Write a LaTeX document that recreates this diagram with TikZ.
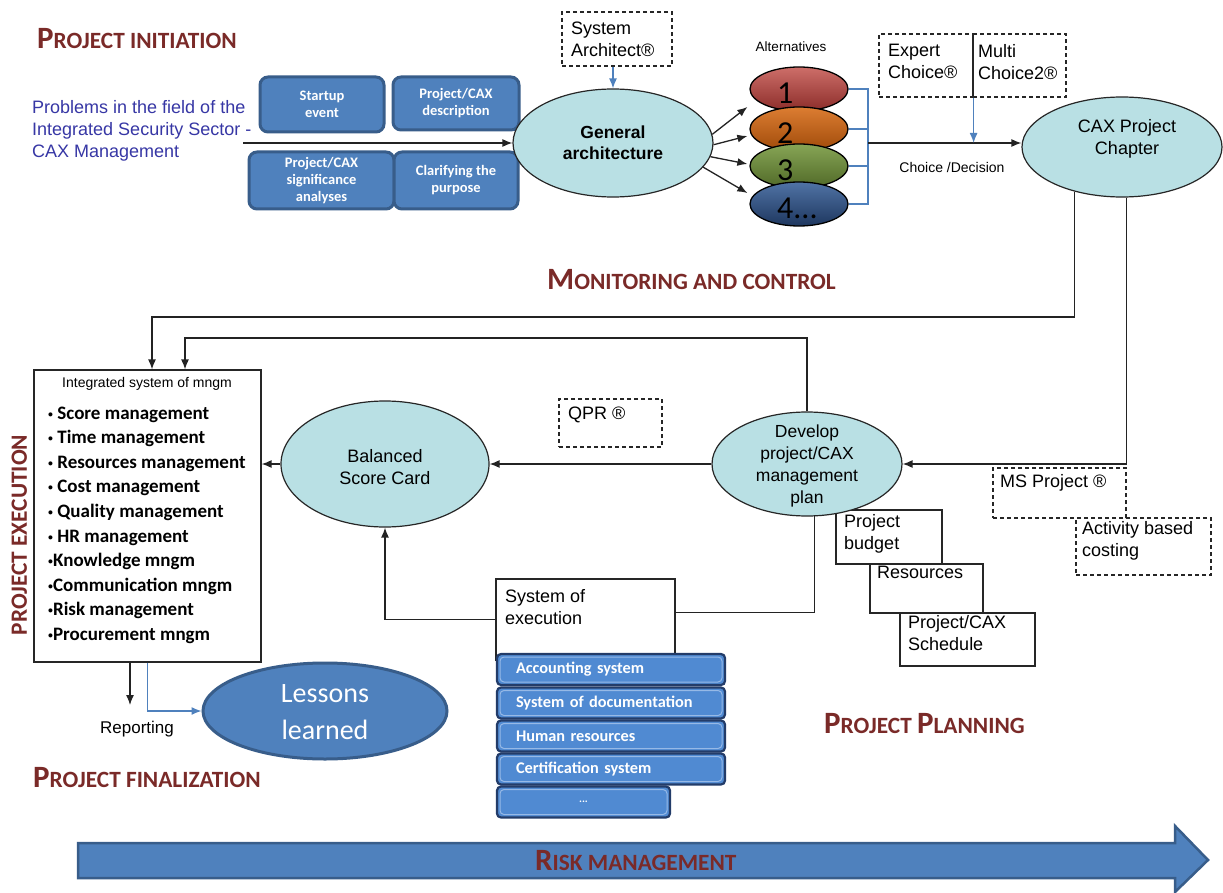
\documentclass[tikz,border=0pt]{standalone}
\usepackage{fontspec}
\setmainfont{Liberation Sans}
\newfontfamily\carl{Carlito}
\newfontfamily\bulfont{Liberation Sans}
\usetikzlibrary{arrows.meta,shapes.geometric}
\definecolor{hdred}{RGB}{122,42,40}
\definecolor{probblue}{RGB}{55,55,165}
\definecolor{boxblue}{RGB}{79,129,189}
\definecolor{boxedge}{RGB}{56,93,138}
\definecolor{tealfill}{RGB}{185,224,228}
\definecolor{exfill}{RGB}{80,138,210}
\definecolor{exedge}{RGB}{35,60,105}
\definecolor{exhl}{RGB}{150,185,230}
\definecolor{linkblue}{RGB}{79,129,189}
\definecolor{lnk}{RGB}{35,35,35}
\definecolor{aat}{RGB}{205,110,105}\definecolor{aab}{RGB}{140,45,42}
\definecolor{abt}{RGB}{220,125,50}\definecolor{abb}{RGB}{160,75,10}
\definecolor{act}{RGB}{135,165,85}\definecolor{acb}{RGB}{80,105,40}
\definecolor{adt}{RGB}{80,115,165}\definecolor{adb}{RGB}{30,55,95}
\newcommand\hdtxt[2]{{\fontsize{31}{31}\selectfont #1}{\fontsize{23.3}{23.3}\selectfont #2}}
\newcommand\bul{{\bulfont\fontsize{14}{14}\selectfont •}}
\tikzset{
 every node/.style={inner sep=0pt},
 arr/.style={draw=lnk, line width=1.3pt, -{Latex[length=10pt,width=8pt]}},
 ln/.style={draw=lnk, line width=1.3pt},
 barr/.style={draw=linkblue, line width=1.3pt, -{Latex[length=10pt,width=8pt]}},
 bln/.style={draw=linkblue, line width=1.3pt},
 dbox/.style={rectangle, draw=black!85, dash pattern=on 4pt off 3pt, line width=1.2pt},
 sbox/.style={rectangle, draw=black!85, line width=1.2pt, fill=white},
 tealell/.style={ellipse, draw=black!85, line width=1.2pt, fill=tealfill},
 altell/.style={ellipse, draw=black, line width=1.3pt, minimum width=98, minimum height=44},
 digit/.style={font=\carl\fontsize{32}{32}\selectfont, anchor=west},
 bbox/.style={rectangle, rounded corners=8pt, draw=boxedge, line width=3pt, fill=boxblue, text=white, font=\carl\bfseries\fontsize{14.5}{17}\selectfont, align=center},
 exbox/.style={rectangle, rounded corners=4pt, draw=exedge, line width=2.2pt, fill=exfill, text=white, font=\carl\bfseries\fontsize{16.3}{16.3}\selectfont, minimum height=31,
   path picture={\draw[exhl, line width=1pt] ([shift={(3pt,-3pt)}]path picture bounding box.north west) rectangle ([shift={(-3pt,3pt)}]path picture bounding box.south east);}},
 t18/.style={font=\fontsize{18}{22}\selectfont, align=left, anchor=north west},
 hd/.style={font=\carl\bfseries, text=hdred, anchor=base west},
 item/.style={anchor=base west, font=\carl\bfseries\fontsize{19}{19}\selectfont},
}
\begin{document}
\begin{tikzpicture}[x=1pt,y=-1pt]
\useasboundingbox (0,0) rectangle (1223,893);
\fill[white] (0,0) rectangle (1223,893);

% headings
\node[hd] (h1) at (37,49) {\hdtxt{P}{ROJECT INITIATION}};
\node[hd] (h2) at (547,290) {\hdtxt{M}{ONITORING AND CONTROL}};
\node[hd] (h3) at (33,787) {\hdtxt{P}{ROJECT FINALIZATION}};
\node[hd] (h4) at (824,733) {\hdtxt{P}{ROJECT }\hdtxt{P}{LANNING}};
\node[font=\carl\bfseries\fontsize{23.3}{23.3}\selectfont, text=hdred, rotate=90, anchor=base] (h6) at (27,535) {PROJECT EXECUTION};

% initiation
\node[t18, text=probblue] (prob) at (32,100) {Problems in the field of the\\Integrated Security Sector -\\CAX Management};
\node[bbox, minimum width=124, minimum height=55] (b1) at (322,104.5) {Startup\\event};
\node[bbox, minimum width=126, minimum height=53] (b2) at (456,103.5) {Project/CAX\\description};
\node[bbox, minimum width=145, minimum height=57] (b3) at (321.5,180.5) {Project/CAX\\significance\\analyses};
\node[bbox, minimum width=124, minimum height=57] (b4) at (456,180.5) {Clarifying the\\purpose};

\node[tealell, minimum width=200, minimum height=108, font=\bfseries\fontsize{17.5}{21}\selectfont, align=center] (ga) at (613,143) {General\\architecture};
\node[dbox, minimum width=110, minimum height=54] (sa) at (617,39) {};
\node[t18] (sat) at (571,21.5) {System\\Architect®};

\node[font=\fontsize{13.5}{13.5}\selectfont] (altl) at (791,47) {Alternatives};
\node[altell, top color=aat, bottom color=aab] (alt1) at (799,89) {};
\node[digit] (n1) at (777,93) {1};
\node[altell, top color=abt, bottom color=abb] (alt2) at (799,129) {};
\node[digit] (n2) at (777,133) {2};
\node[altell, top color=act, bottom color=acb] (alt3) at (799,166) {};
\node[digit] (n3) at (777,170) {3};
\node[altell, top color=adt, bottom color=adb] (alt4) at (799,204) {};
\node[digit] (n4) at (777,208) {4...};

\node[dbox, minimum width=94, minimum height=63] (ec) at (926,65.5) {};
\node[dbox, minimum width=93, minimum height=63] (mc) at (1019.5,65.5) {};
\node[t18] (ect) at (888,44) {Expert\\Choice®};
\node[t18] (mct) at (978,44) {Multi\\Choice2®};
\node[font=\fontsize{14}{14}\selectfont] (cd) at (952,167) {Choice /Decision};

\node[tealell, minimum width=200, minimum height=100] (cax) at (1122,147) {};
\node[font=\fontsize{18}{22}\selectfont, align=center] (caxt) at (1127,139) {CAX Project\\Chapter};

% execution
\node[sbox, minimum width=227, minimum height=292] (isys) at (147.5,516) {};
\node[font=\fontsize{14}{14}\selectfont] (isyst) at (147,384) {Integrated system of mngm};
\foreach \t [count=\i from 0] in {{\bul{} Score management},{\bul{} Time management},{\bul{} Resources management},{\bul{} Cost management},{\bul{} Quality management},{\bul{} HR management},{\bul Knowledge mngm},{\bul Communication mngm},{\bul Risk management},{\bul Procurement mngm}}
  \node[item] (it\i) at (48,{419+24.6*\i}) {\t};

\node[tealell, minimum width=208, minimum height=126, font=\fontsize{18}{22}\selectfont, align=center] (bsc) at (385,464) {};
\node[font=\fontsize{18}{22}\selectfont, align=center] (bsct) at (385,467) {Balanced\\Score Card};
\node[dbox, minimum width=103, minimum height=48] (qpr) at (610.5,423) {};
\node[t18] (qprt) at (568,406.5) {QPR ®};

% planning
\node[sbox, minimum width=106, minimum height=54] (pb) at (889,537) {};
\node[sbox, minimum width=113, minimum height=49] (res) at (926.5,588.5) {};
\node[sbox, minimum width=135, minimum height=53] (sch) at (967.5,639.5) {};
\node[t18] (pbt) at (844,514.5) {Project\\budget};
\node[t18] (rest) at (877,565.5) {Resources};
\node[t18] (scht) at (908,615.5) {Project/CAX\\Schedule};
\node[tealell, minimum width=190, minimum height=104] (dev) at (807,464) {};
\node[font=\fontsize{17.5}{22}\selectfont, align=center] (devt) at (807,466) {Develop\\project/CAX\\management\\plan};
\node[dbox, minimum width=133, minimum height=50] (ms) at (1059.5,493) {};
\node[dbox, minimum width=135, minimum height=57] (abc) at (1143.5,546.5) {};
\node[t18] (mst) at (1000,474.5) {MS Project ®};
\node[t18] (abct) at (1082,521.5) {Activity based\\costing};

\node[sbox, minimum width=179, minimum height=81] (se) at (585.5,619.5) {};
\node[t18] (set) at (505,589.5) {System of\\execution};
\node[exbox, minimum width=228, text width=190, align=left] (ex1) at (611,669.5) {Accounting system};
\node[exbox, minimum width=228, text width=190, align=left] (ex2) at (611,703) {System of documentation};
\node[exbox, minimum width=228, text width=190, align=left] (ex3) at (611,736) {Human resources};
\node[exbox, minimum width=228, text width=190, align=left] (ex4) at (611,769) {Certification system};
\node[exbox, minimum width=173, align=center, font=\carl\bfseries\fontsize{11}{11}\selectfont] (ex5) at (583.5,802) {...};

% finalization
\node[ellipse, fill=boxblue, draw=boxedge, line width=3pt, minimum width=244, minimum height=96] (ll) at (325,711) {};
\node[text=white, font=\carl\fontsize{28}{37}\selectfont, align=center] (llt) at (325,712) {Lessons\\learned};
\coordinate (rep) at (130,705);
\node[font=\fontsize{17}{17}\selectfont] (rept) at (137,729) {Reporting};

% risk arrow
\draw[fill=boxblue, draw=boxedge, line width=2.5pt] (78,843) -- (1175,843) -- (1175,826) -- (1208,860) -- (1175,892) -- (1175,878) -- (78,878) -- cycle;
\node[hd] (h5) at (535,870) {\hdtxt{R}{ISK MANAGEMENT}};

% connectors
\coordinate (inp) at (243,143);
\draw[arr] (inp) -- (ga.west);
\draw[barr] (ga.north |- sa.south) -- (ga.north);
\draw[arr] (ga.5) -- ([shift={(-2,18)}]alt1.west);
\draw[arr] (ga.-1) -- ([shift={(-2,7)}]alt2.west);
\draw[arr] (ga.-8) -- ([shift={(-2,-2)}]alt3.west);
\draw[arr] (ga.-15) -- ([shift={(-2,-11)}]alt4.west);
\coordinate (br) at (868,143);
\draw[bln] (alt1.east) -- (alt1.east -| br) -- (alt4.east -| br) -- (alt4.east);
\draw[bln] (alt2.east) -- (alt2.east -| br);
\draw[bln] (alt3.east) -- (alt3.east -| br);
\draw[arr] (br) -- (br -| cax.west);
\draw[barr] (ec.south east) -- (ec.south east |- br);

\coordinate (m1) at (152,317);
\draw[arr] (cax.223) |- (m1) -- (m1 |- isys.north);
\draw[arr] (cax.-85) |- (dev.east);
\coordinate (m2) at (185,338);
\draw[arr] (dev.north) |- (m2) -- (m2 |- isys.north);
\draw[arr] (dev.west) -- (bsc.east);
\draw[arr] (bsc.west) -- (bsc.west -| isys.east);
\draw[arr] (se.west) -| (bsc.south);
\draw[ln] ([yshift=7pt]se.east) -| (dev.-82);
\draw[arr] (rep |- isys.south) -- (rep);
\draw[barr] (isys.south) |- (ll.west);
\end{tikzpicture}
\end{document}
